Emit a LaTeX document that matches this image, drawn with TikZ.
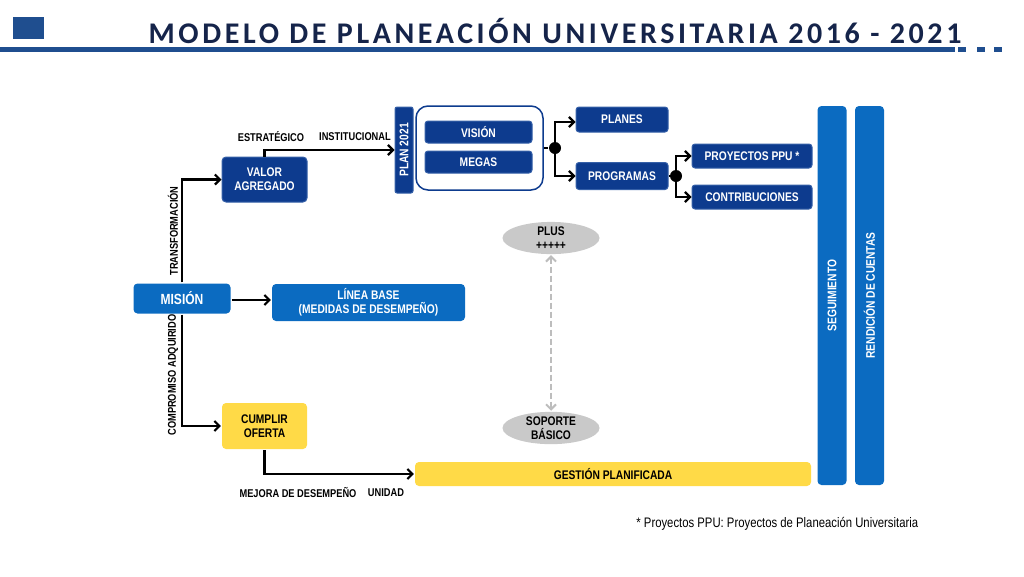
\documentclass[tikz,border=0pt]{standalone}
\usepackage{fontspec}
\setmainfont{Liberation Sans}
\newfontfamily\narrowfont[FakeStretch=0.82]{Liberation Sans}
\newfontfamily\titlefont[LetterSpace=12]{Carlito}
\usetikzlibrary{shapes, arrows.meta, positioning}

\definecolor{navy}{HTML}{0D3B8E}
\definecolor{navyedge}{HTML}{3560A8}
\definecolor{brightblue}{HTML}{0B6BC1}
\definecolor{gold}{HTML}{FFDA47}
\definecolor{headblue}{HTML}{1F4E8F}
\definecolor{titleblue}{HTML}{15244A}
\definecolor{ovalgray}{HTML}{C9C9C9}
\definecolor{dashgray}{HTML}{BDBDBD}

\begin{document}
\begin{tikzpicture}[x=1pt, y=-1pt, ->, >={Straight Barb[length=5pt, width=10pt]}, line width=2.2pt,
    box/.style={rectangle, rounded corners=4pt, inner sep=1pt, align=center,
        font=\narrowfont\bfseries\fontsize{12.5}{14}\selectfont},
    navybox/.style={box, fill=navy, draw=navyedge, line width=1pt, text=white},
    bluebox/.style={box, fill=brightblue, text=white},
    goldbox/.style={box, fill=gold, text=black},
    oval/.style={ellipse, fill=ovalgray, inner sep=0pt, align=center,
        font=\narrowfont\bfseries\fontsize{12.5}{14}\selectfont},
    dot/.style={circle, fill=black, inner sep=0pt, minimum size=12pt},
    lbl/.style={font=\narrowfont\bfseries\fontsize{11.3}{13}\selectfont}]
    \useasboundingbox (0,0) rectangle (1024,576);
    % header
    \fill[headblue] (13,17) rectangle (44,39);
    \fill[headblue] (0,47) rectangle (955,52);
    \foreach \x in {958, 977, 994} \fill[headblue] (\x,47) rectangle ++(8,5);
    \node[anchor=base, text=titleblue, font=\titlefont\bfseries\fontsize{30}{32}\selectfont] (Title) at (555,43) {MODELO DE PLANEACIÓN UNIVERSITARIA 2016 - 2021};

    % boxes
    \node[navybox, minimum width=85pt, minimum height=45pt] (Valor) at (264.5,179.5) {VALOR\\AGREGADO};
    \node[bluebox, minimum width=97pt, minimum height=30pt, font=\narrowfont\bfseries\fontsize{14.7}{16}\selectfont] (Mision) at (182,298.5) {MISIÓN};
    \node[bluebox, minimum width=193pt, minimum height=37pt] (Linea) at (368.5,302.5) {LÍNEA BASE\\(MEDIDAS DE DESEMPEÑO)};
    \node[goldbox, minimum width=85pt, minimum height=46pt] (Cumplir) at (264.5,426) {CUMPLIR\\OFERTA};
    \node[goldbox, minimum width=396pt, minimum height=24pt] (Gestion) at (613,474) {GESTIÓN PLANIFICADA};
    \node[navybox, rotate=90, rounded corners=2pt, minimum width=86pt, minimum height=18pt] (Plan) at (404,150) {PLAN 2021};
    \node[draw=navy, line width=1.5pt, rounded corners=12pt, fill=white, minimum width=127pt, minimum height=84pt] (Frame) at (479.5,148) {};
    \node[navybox, rounded corners=3pt, minimum width=107pt, minimum height=22pt] (Vision) at (478.5,132) {VISIÓN};
    \node[navybox, rounded corners=3pt, minimum width=107pt, minimum height=22pt] (Megas) at (478.5,162) {MEGAS};
    \node[navybox, rounded corners=3pt, minimum width=92pt, minimum height=25pt] (Planes) at (622,119.5) {PLANES};
    \node[navybox, rounded corners=3pt, minimum width=92pt, minimum height=27pt] (Programas) at (622,176) {PROGRAMAS};
    \node[navybox, rounded corners=3pt, minimum width=120pt, minimum height=24pt] (Proyectos) at (752,156) {PROYECTOS PPU *};
    \node[navybox, rounded corners=3pt, minimum width=120pt, minimum height=24pt] (Contrib) at (752,197) {CONTRIBUCIONES};
    \node[bluebox, rotate=90, minimum width=379pt, minimum height=29pt] (Seguimiento) at (832,295.5) {SEGUIMIENTO};
    \node[bluebox, rotate=90, minimum width=379pt, minimum height=29pt] (Rendicion) at (869.5,295.5) {RENDICIÓN DE CUENTAS};
    \node[oval, minimum width=97pt, minimum height=30pt] (Plus) at (551,238) {PLUS\\+++++};
    \node[oval, minimum width=97pt, minimum height=32pt] (Soporte) at (551,428) {SOPORTE\\BÁSICO};
    \node[dot] (DotA) at (555,148) {};
    \node[dot] (DotB) at (676,176) {};

    % connectors
    \draw (Mision.north) |- (Valor.west);
    \draw (Mision.south) |- (Cumplir.west);
    \draw (Mision.east |- 0,300) -- (Linea.west |- 0,300);
    \draw (Valor.north) |- (Plan.north);
    \draw[-] (Frame.east) -- (DotA);
    \draw (DotA.center) |- (Planes.west |- 0,122);
    \draw (DotA.center) |- (Programas.west);
    \draw[-] (Programas.east) -- (DotB);
    \draw (DotB.center) |- (Proyectos.west);
    \draw (DotB.center) |- (Contrib.west);
    \draw (Cumplir.south) |- (Gestion.west);
    \draw[<->, dashgray, dashed, line width=2pt, dash pattern=on 6pt off 3pt] (Plus.south) -- (Soporte.north);

    % labels
    \node[lbl] (Estrategico) at (271,137) {ESTRATÉGICO};
    \node[lbl] (Institucional) at (355,137) {INSTITUCIONAL};
    \node[lbl, rotate=90] (Transformacion) at (173,231) {TRANSFORMACIÓN};
    \node[lbl, rotate=90] (Compromiso) at (173,375) {COMPROMISO ADQUIRIDO};
    \node[lbl] (Mejora) at (298,493) {MEJORA DE DESEMPEÑO};
    \node[lbl] (Unidad) at (386,493) {UNIDAD};
    \node[anchor=west, font=\narrowfont\fontsize{13.8}{15}\selectfont] (Nota) at (632,524) {* Proyectos PPU: Proyectos de Planeación Universitaria};
\end{tikzpicture}
\end{document}
